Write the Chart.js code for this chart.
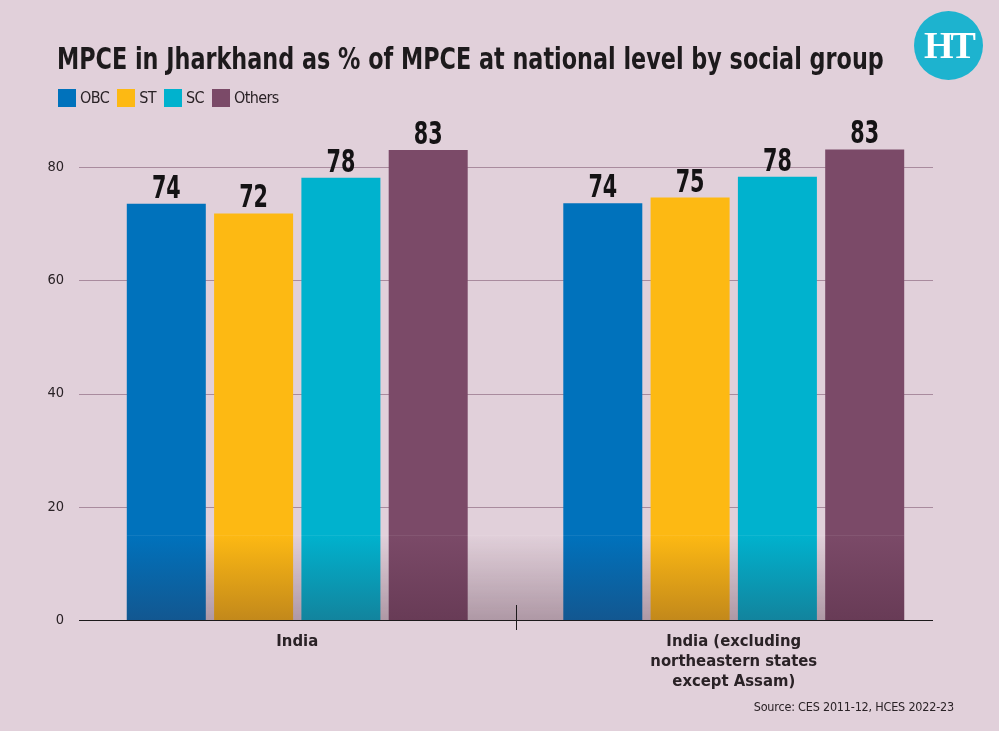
<!DOCTYPE html>
<html>
<head>
<meta charset="utf-8">
<script src="https://cdn.jsdelivr.net/npm/chart.js@4.4.1/dist/chart.umd.min.js"></script>
<style>
  body { margin: 0; background: #e1d0da; }
  .wrap { position: relative; width: 999px; height: 731px; overflow: hidden; }
  canvas { position: absolute; left: 0; top: 0; }
  h1 {
    position: absolute; left: 57px; top: 41px; margin: 0;
    font-family: "DejaVu Sans Condensed", "DejaVu Sans", sans-serif;
    font-weight: bold; font-size: 30px; color: #1d1a1c; white-space: nowrap;
    transform-origin: left top;
  }
  #custom { position: absolute; left: 58px; top: 88px; }
  #custom ul { list-style: none; margin: 0; padding: 0; display: flex; }
  #custom li { display: flex; align-items: center; margin-right: 8px; }
  #custom span { display: inline-block; width: 18px; height: 18px; margin-right: 4px; }
  #custom p { margin: 0; font-family: "DejaVu Sans Condensed", sans-serif;
    font-size: 16px; color: #2a2226; letter-spacing: -0.6px; }
  .logo {
    position: absolute; left: 914px; top: 11px; width: 69px; height: 69px; border-radius: 50%;
    background: #1db3cf; color: #fff; text-align: center; line-height: 69px;
    font-family: "Liberation Serif", serif; font-weight: bold; font-size: 38px; letter-spacing: -3px;
  }
  .source {
    position: absolute; right: 45px; top: 699px;
    font-family: "DejaVu Sans Condensed", sans-serif;
    font-size: 12.5px; color: #2a2226; letter-spacing: -0.2px;
  }
</style>
</head>
<body>
<div class="wrap">
  <canvas id="mpce" width="999" height="731"></canvas>
  <h1 id="title">MPCE in Jharkhand as % of MPCE at national level by social group</h1>
  <div class="logo">HT</div>
  <div class="source">Source: CES 2011-12, HCES 2022-23</div>
</div>
<script>
// data
const regions = ["India", ["India (excluding", "northeastern states", "except Assam)"]];
const groups = ["OBC", "ST", "SC", "Others"];
const obcValues = [73.5, 73.6];
const stValues = [71.8, 74.6];
const scValues = [78.1, 78.3];
const othersValues = [83.0, 83.1];
const yTicks = [0, 20, 40, 60, 80];

const colors = ["#0072bc", "#fdb913", "#00b2ce", "#7b4a68"];
const condensed = '"DejaVu Sans Condensed", "DejaVu Sans", sans-serif';
const gridEnd = 933;

// fit the title to the reference width
const title = document.getElementById("title");
title.style.transform = "scaleX(" + (827 / title.scrollWidth) + ")";

// horizontal grid + axis line, stopping short of the right edge
const gridPlugin = {
  id: "grid",
  beforeDatasetsDraw(chart) {
    const ctx = chart.ctx;
    const y = chart.scales.y;
    ctx.save();
    ctx.strokeStyle = "#a98b9e";
    ctx.lineWidth = 1;
    y.ticks.forEach((t) => {
      if (t.value === 0) return;
      const py = Math.round(y.getPixelForValue(t.value)) + 0.5;
      ctx.beginPath();
      ctx.moveTo(chart.chartArea.left, py);
      ctx.lineTo(gridEnd, py);
      ctx.stroke();
    });
    ctx.restore();
  },
  afterDatasetsDraw(chart) {
    const ctx = chart.ctx;
    const y = chart.scales.y;
    const first = chart.getDatasetMeta(0).data[0];
    const last = chart.getDatasetMeta(3).data[1];
    const left = first.x - first.width / 2;
    const right = last.x + last.width / 2;
    const top = y.getPixelForValue(15);
    const bottom = y.getPixelForValue(0);
    const g = ctx.createLinearGradient(0, top, 0, bottom);
    g.addColorStop(0, "rgba(60,25,45,0)");
    g.addColorStop(1, "rgba(60,25,45,0.3)");
    ctx.save();
    ctx.fillStyle = g;
    ctx.fillRect(left, top, right - left, bottom - top);
    // faint edge where the fade starts
    ctx.strokeStyle = "rgba(255,255,255,0.07)";
    ctx.beginPath();
    ctx.moveTo(left, Math.round(top) + 0.5);
    ctx.lineTo(right, Math.round(top) + 0.5);
    ctx.stroke();
    // base line
    const by = Math.round(bottom) + 0.5;
    ctx.strokeStyle = "#1d1a1c";
    ctx.beginPath();
    ctx.moveTo(chart.chartArea.left, by);
    ctx.lineTo(gridEnd, by);
    ctx.stroke();
    ctx.restore();
  }
};

// value labels + middle tick
const labelPlugin = {
  id: "labels",
  afterDraw(chart) {
    const ctx = chart.ctx;
    ctx.save();
    ctx.font = "bold 32px " + condensed;
    ctx.fillStyle = "#141214";
    ctx.textAlign = "center";
    ctx.textBaseline = "alphabetic";
    chart.data.datasets.forEach((ds, i) => {
      chart.getDatasetMeta(i).data.forEach((bar, j) => {
        ctx.save();
        ctx.translate(bar.x, bar.y - 6);
        ctx.scale(0.72, 1);
        ctx.fillText(Math.round(ds.data[j]), 0, 0);
        ctx.restore();
      });
    });
    const x = chart.scales.x;
    const mid = (x.getPixelForValue(0) + x.getPixelForValue(1)) / 2;
    const base = chart.scales.y.getPixelForValue(0);
    ctx.strokeStyle = "#1d1a1c";
    ctx.lineWidth = 1;
    ctx.beginPath();
    ctx.moveTo(Math.round(mid) + 0.5, base - 15);
    ctx.lineTo(Math.round(mid) + 0.5, base + 10);
    ctx.stroke();
    ctx.restore();
  }
};

const mpce = document.getElementById("mpce").getContext("2d");

let mpceChart = new Chart(mpce, {
  type: "bar",
  data: {
    labels: regions,
    datasets: [obcValues, stValues, scValues, othersValues].map((vals, i) => ({
      label: groups[i],
      data: vals,
      backgroundColor: colors[i],
      borderWidth: 0,
      categoryPercentage: 0.8,
      barPercentage: 0.905,
      clip: false
    }))
  },
  options: {
    responsive: false,
    animation: false,
    layout: { padding: { top: 167, right: 47, left: 0, bottom: 0 } },
    plugins: {
      legend: { display: false },
      tooltip: { enabled: false }
    },
    scales: {
      y: {
        min: 0,
        max: 80,
        afterFit: (scale) => { scale.width = 79; },
        afterBuildTicks: (scale) => { scale.ticks = yTicks.map(v => ({ value: v })); },
        ticks: {
          color: "#2a2226",
          padding: 7,
          font: { family: condensed, size: 14.5 }
        },
        border: { display: false },
        grid: { display: false }
      },
      x: {
        afterFit: (scale) => { scale.height = 111; },
        ticks: {
          color: "#2a2226",
          padding: 4,
          font: { family: condensed, size: 16.5, weight: "bold", lineHeight: 1.2 }
        },
        border: { display: false },
        grid: { display: false }
      }
    }
  },
  plugins: [gridPlugin, labelPlugin]
});

// generate legend
function generateLegend() {
  const box = document.querySelector(".wrap");
  const div = document.createElement("div");
  div.setAttribute("id", "custom");
  const ul = document.createElement("ul");
  mpceChart.data.datasets.forEach((ds) => {
    const li = document.createElement("li");
    const span = document.createElement("span");
    span.style.backgroundColor = ds.backgroundColor;
    const p = document.createElement("p");
    p.textContent = ds.label;
    li.appendChild(span);
    li.appendChild(p);
    ul.appendChild(li);
  });
  div.appendChild(ul);
  box.appendChild(div);
}

generateLegend();
</script>
</body>
</html>
